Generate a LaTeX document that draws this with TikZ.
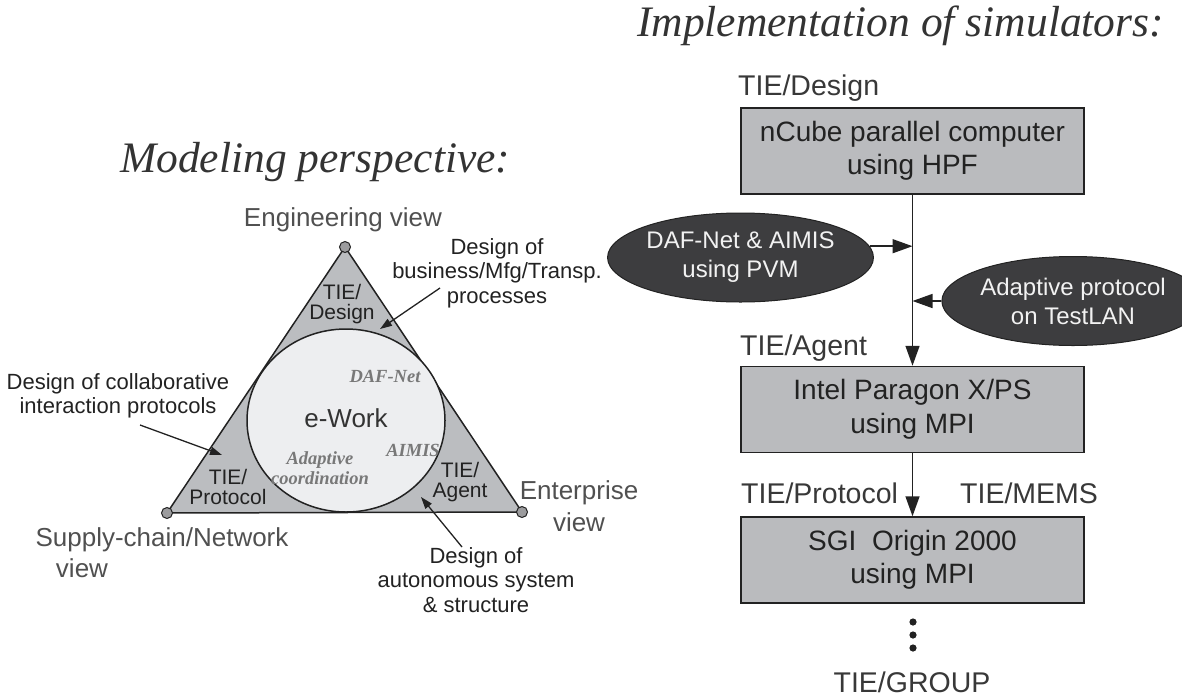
\documentclass[tikz,border=0pt]{standalone}
\usepackage{fontspec}
\setmainfont{Liberation Sans}
\newfontfamily\serifit{Liberation Serif}
\usetikzlibrary{arrows.meta,shapes.geometric}

\definecolor{trifill}{HTML}{BBBDC0}
\definecolor{discfill}{HTML}{EDEEF0}
\definecolor{boxfill}{HTML}{BABBBE}
\definecolor{ovalfill}{HTML}{3D3D3F}
\definecolor{ovaltext}{HTML}{F2F2F2}
\definecolor{vertexfill}{HTML}{9C9C9E}
\definecolor{ink}{HTML}{222222}
\definecolor{labelgray}{HTML}{505050}
\definecolor{italgray}{HTML}{787878}
\definecolor{titleink}{HTML}{333333}

\newcommand\fsz[2]{\fontsize{#1}{#2}\selectfont}

\begin{document}
\begin{tikzpicture}[x=1pt,y=-1pt,
  title/.style={font=\serifit\itshape\fsz{43.5}{48}, text=titleink, inner sep=0pt},
  viewlabel/.style={font=\fsz{26}{31}, text=labelgray, inner sep=0pt},
  note/.style={font=\fsz{22}{24.5}, text=ink, align=center, inner sep=0pt},
  corner/.style={font=\fsz{21}{19.5}, text=ink, align=center, inner sep=0pt},
  tool/.style={font=\serifit\bfseries\itshape\fsz{18.5}{20}, text=italgray, align=center, inner sep=0pt},
  vertex/.style={circle, fill=vertexfill, draw=ink, line width=1pt, minimum size=11pt, inner sep=0pt},
  simbox/.style={rectangle, fill=boxfill, draw=ink, line width=1.5pt, minimum width=343pt, minimum height=86pt,
                 align=center, font=\fsz{28}{33.5}, text=ink, inner sep=0pt},
  oval/.style={ellipse, fill=ovalfill, draw=ink, line width=1pt, minimum width=215pt, minimum height=89pt,
               align=center, font=\fsz{24}{29}, text=ovaltext, inner sep=0pt},
  simlabel/.style={font=\fsz{28.5}{33}, text=labelgray!70!black, inner sep=0pt},
  flow/.style={draw=ink, line width=1.5pt, -{Triangle[length=20pt,width=14pt]}},
  pointer/.style={draw=ink, line width=1.3pt, -{Triangle[length=12pt,width=8pt]}}
]
\useasboundingbox (0,0) rectangle (1182,699);

% ---------------- left: modeling triangle ----------------
\node[title, anchor=base west] (mtitle) at (120,172) {Modeling perspective:};

\coordinate (vtop) at (345,247);
\coordinate (vleft) at (167,513);
\coordinate (vright) at (522,512);
\filldraw[fill=trifill, draw=ink, line width=1.5pt, line join=miter] (vtop) -- (vleft) -- (vright) -- cycle;
\filldraw[fill=discfill, draw=ink, line width=1.5pt] (346,420.5) ellipse [x radius=99, y radius=91.5];

\node[vertex] (ntop) at (vtop) {};
\node[vertex] (nleft) at (vleft) {};
\node[vertex] (nright) at (vright) {};

\node[viewlabel, anchor=base] (engview) at (343,226) {Engineering view};
\node[viewlabel, anchor=base] (supview) at (162,546) {Supply-chain/Network};
\node[viewlabel, anchor=base] (supview2) at (82,577) {view};
\node[viewlabel, anchor=north, align=center] (entview) at (579,480.5) {Enterprise\\[0.5pt]view};

\node[corner, anchor=north] (cdesign) at (342,284.5) {TIE/\\Design};
\node[corner, anchor=north] (cprotocol) at (228,469.5) {TIE/\\Protocol};
\node[corner, anchor=north] (cagent) at (460,462.5) {TIE/\\Agent};

\node[font=\fsz{26}{30}, text=titleink, inner sep=0pt] (ework) at (346,418) {e-Work};
\node[tool] (dafnet) at (385,376) {DAF-Net};
\node[tool] (aimis) at (413,450) {AIMIS};
\node[tool, anchor=north] (adapt) at (320,451) {Adaptive\\coordination};

\node[note, anchor=north] (bizproc) at (497,238) {Design of\\business/Mfg/Transp.\\processes};
\node[note, anchor=north] (collab) at (118,373) {Design of collaborative\\interaction protocols};
\node[note, anchor=north] (autosys) at (476,547) {Design of\\autonomous system\\\& structure};

\coordinate (bizTail) at (440,288);
\coordinate (bizTip) at (380,329);
\coordinate (colTail) at (140,425);
\coordinate (colTip) at (222,455);
\coordinate (autTail) at (462,547);
\coordinate (autTip) at (421,497);
\draw[pointer] (bizTail) -- (bizTip);
\draw[pointer] (colTail) -- (colTip);
\draw[pointer] (autTail) -- (autTip);

% ---------------- right: simulator chain ----------------
\node[title, anchor=base west] (stitle) at (637,36) {Implementation of simulators:};

\node[simlabel, anchor=base west] (ldesign) at (738,95) {TIE/Design};
\node[simbox] (box1) at (912.5,151) {nCube parallel computer\\using HPF};

\node[simlabel, anchor=base west] (lagent) at (740,355) {TIE/Agent};
\node[simbox] (box2) at (912.5,409.5) {Intel Paragon X/PS\\using MPI};

\node[simlabel, anchor=base west] (lprotocol) at (741,503) {TIE/Protocol};
\node[simlabel, anchor=base west] (lmems) at (960,503) {TIE/MEMS};
\node[simbox] (box3) at (912.5,560) {SGI~~Origin 2000\\using MPI};

\node[oval] (oval1) at (740.5,257.5) {DAF-Net \& AIMIS\\using PVM};
\node[oval] (oval2) at (1073,301) {Adaptive protocol\\on TestLAN};

\draw[flow] (box1.south) -- (box2.north);
\draw[flow] (box2.south) -- (box3.north);
\draw[flow] (oval1.5) -- (oval1.5 -| box1.south);
\draw[flow] (oval2.west) -- (oval2.west -| box1.south);

\foreach \yy in {622,635,648}
  \fill[ink] (913,\yy) circle (3.6);

\node[simlabel, anchor=base] (lgroup) at (912,692) {TIE/GROUP};
\end{tikzpicture}
\end{document}
